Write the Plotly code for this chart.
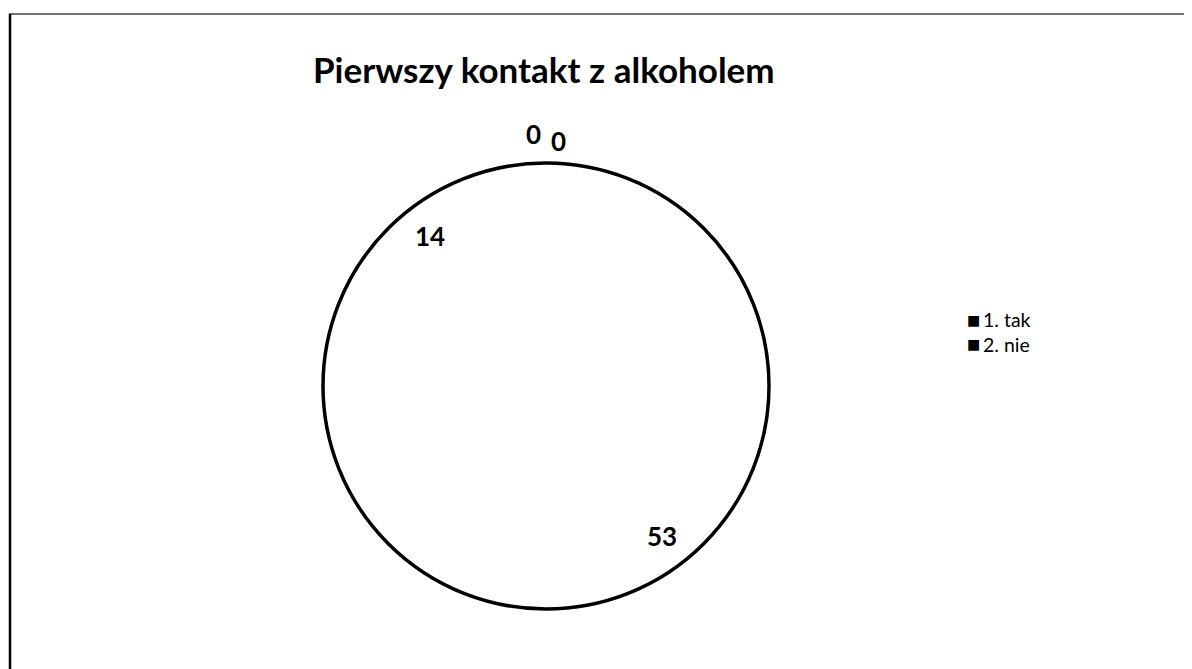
import math
import plotly.graph_objects as go

# ---- data ----
categories = ["1. tak", "2. nie", "", " "]
values = [53, 14, 0, 0]
legend_categories = ["1. tak", "2. nie"]
title_text = "Pierwszy kontakt z alkoholem"

OFF = 8                      # page body margin
W, H = 1192 - OFF, 669 - OFF  # figure size


def px_x(x):
    return (x - OFF) / W


def px_y(y):
    return 1 - (y - OFF) / H


# pie geometry (page pixels)
CX, CY, R = 546, 386, 223
dom_x = [px_x(CX - R), px_x(CX + R)]
dom_y = [px_y(CY + R), px_y(CY - R)]

fig = go.Figure()

# filled slices (white, no separators, as in the scanned original)
fig.add_trace(go.Pie(
    labels=categories, values=values, sort=False, direction="clockwise",
    rotation=0, marker=dict(colors=["white"] * len(values), line=dict(width=0)),
    textinfo="none", showlegend=False, domain=dict(x=dom_x, y=dom_y),
    hoverinfo="label+value",
))
# outer outline
fig.add_trace(go.Pie(
    labels=["total"], values=[sum(values)], sort=False,
    marker=dict(colors=["rgba(0,0,0,0)"], line=dict(color="black", width=3.5)),
    textinfo="none", showlegend=False, domain=dict(x=dom_x, y=dom_y),
    hoverinfo="skip",
))

annotations = []
# data labels computed from the values
total = sum(values)
cum = 0
zero_idx = 0
for cat, v in zip(categories, values):
    mid = (cum + v / 2) / total * 2 * math.pi
    cum += v
    if v > 0:
        f = 0.85
        xs, ys = 0, 0
    else:
        f = 1.11
        xs, ys = (-12, 4) if zero_idx == 0 else (13, -3)
        zero_idx += 1
    px = CX + f * R * math.sin(mid)
    py = CY - f * R * math.cos(mid)
    annotations.append(dict(
        x=px_x(px), y=px_y(py), xref="paper", yref="paper", text=str(v),
        showarrow=False, xshift=xs, yshift=ys,
        xanchor="center", yanchor="middle",
        font=dict(family="Lato", size=26, color="black", weight="bold"),
    ))

# title
annotations.append(dict(
    x=px_x(544), y=px_y(69), xref="paper", yref="paper", text=title_text,
    showarrow=False, xanchor="center", yanchor="middle",
    font=dict(family="Lato", size=35, color="black", weight="bold"),
))

# legend (black squares, as printed)
for i, cat in enumerate(legend_categories):
    yc = px_y(320 + 24 * i)
    annotations.append(dict(
        x=px_x(973), y=yc, xref="paper", yref="paper", text="■",
        showarrow=False, xanchor="center", yanchor="middle",
        font=dict(family="DejaVu Sans", size=14, color="black"),
    ))
    annotations.append(dict(
        x=px_x(981), y=yc, xref="paper", yref="paper", text=cat,
        showarrow=False, xanchor="left", yanchor="middle",
        font=dict(family="Lato", size=19.5, color="black"),
    ))

shapes = [
    dict(type="line", xref="paper", yref="paper", x0=px_x(9), x1=1.0,
         y0=px_y(14), y1=px_y(14), line=dict(color="#444444", width=1.5)),
    dict(type="line", xref="paper", yref="paper", x0=px_x(10), x1=px_x(10),
         y0=0, y1=px_y(14), line=dict(color="black", width=2.5)),
]

fig.update_layout(
    width=W, height=H, margin=dict(l=0, r=0, t=0, b=0),
    paper_bgcolor="white", plot_bgcolor="white",
    annotations=annotations, shapes=shapes, showlegend=False,
)

fig.write_html("out.html")
